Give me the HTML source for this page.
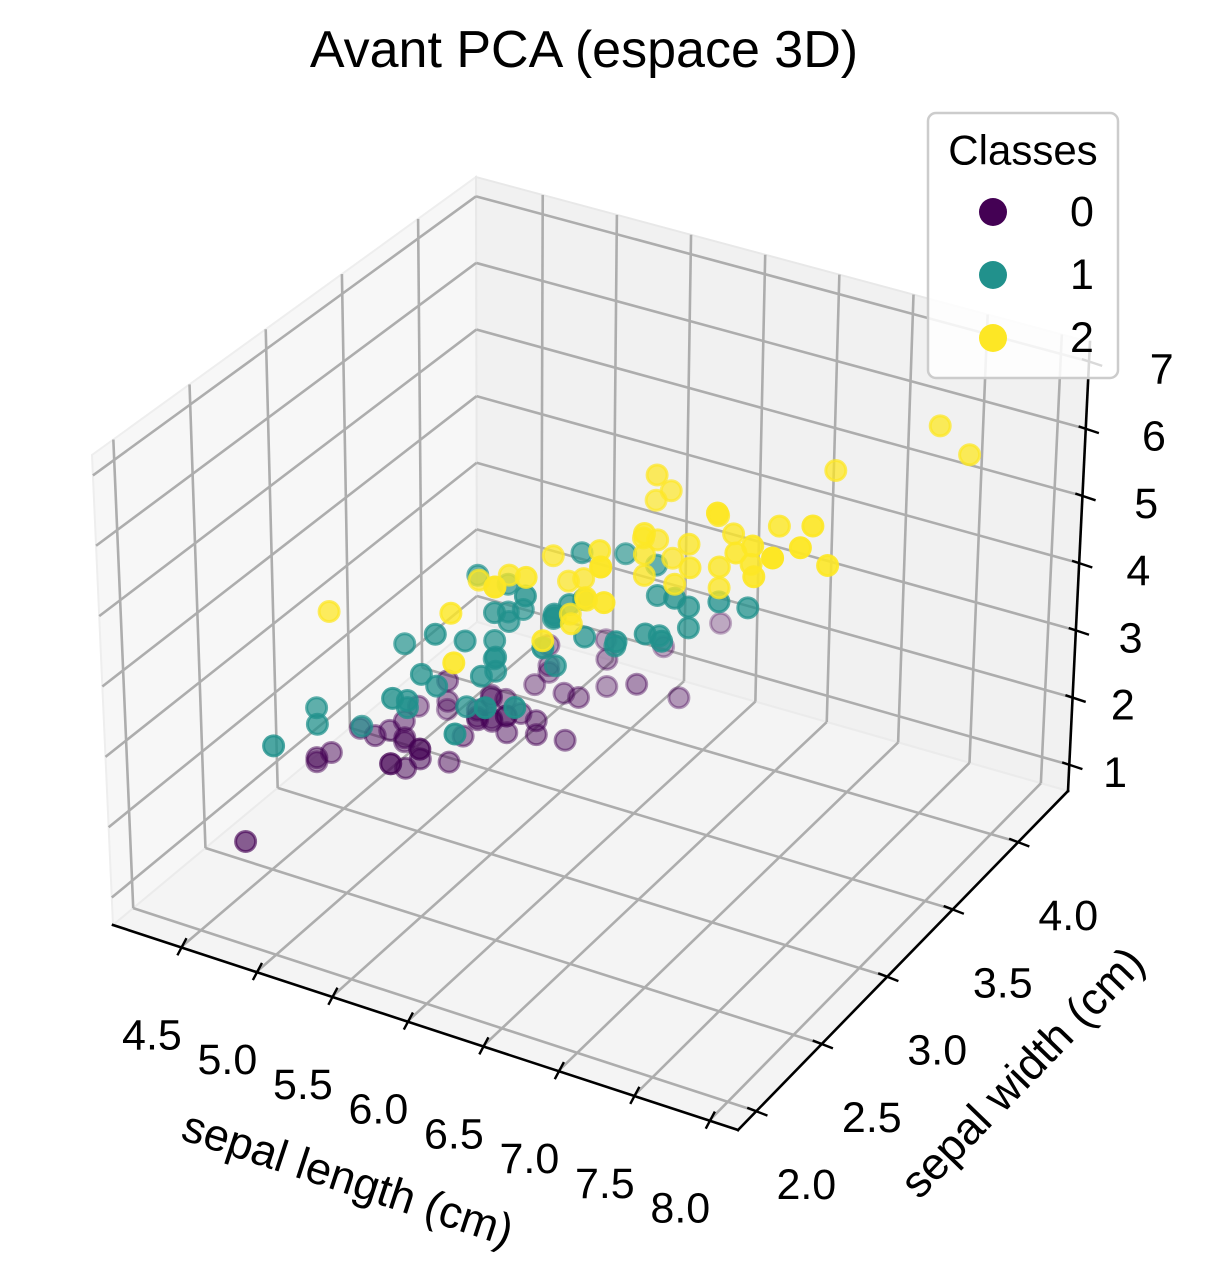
<!DOCTYPE html>
<html><head><meta charset="utf-8"><style>
html,body{margin:0;padding:0;background:#fff;}
svg{display:block;font-family:"Liberation Sans","DejaVu Sans",sans-serif;}
</style></head><body>
<svg id="chart" width="1209" height="1264" viewBox="0 0 1209 1264" xmlns="http://www.w3.org/2000/svg">
<rect width="1209" height="1264" fill="#fff"/>
<text x="584" y="67" font-size="52" text-anchor="middle" fill="#000">Avant PCA (espace 3D)</text>
<g id="panes"></g>
<g id="grid"></g>
<g id="axes"></g>
<g id="points"></g>
<text transform="translate(348,1178) rotate(18.2)" font-size="45" text-anchor="middle" dominant-baseline="central">sepal length (cm)</text>
<text transform="translate(1022,1072) rotate(-46)" font-size="45" text-anchor="middle" dominant-baseline="central">sepal width (cm)</text>
<g>
<rect x="928" y="113" width="190" height="265" rx="8" fill="#fff" fill-opacity="0.85" stroke="#cccccc" stroke-width="2.5"/>
<text x="1023" y="150" font-size="42" text-anchor="middle" dominant-baseline="central">Classes</text>
<g><circle cx="993" cy="212" r="14" fill="#440154"/><text x="1082" y="212" font-size="43" text-anchor="middle" dominant-baseline="central">0</text></g>
<g><circle cx="993" cy="275" r="14" fill="#21918c"/><text x="1082" y="275" font-size="43" text-anchor="middle" dominant-baseline="central">1</text></g>
<g><circle cx="993" cy="338" r="14" fill="#fde725"/><text x="1082" y="338" font-size="43" text-anchor="middle" dominant-baseline="central">2</text></g>
</g>
</svg>
<script>
const sepalLength = [5.1,4.9,4.7,4.6,5.0,5.4,4.6,5.0,4.4,4.9,5.4,4.8,4.8,4.3,5.8,5.7,5.4,5.1,5.7,5.1,5.4,5.1,4.6,5.1,4.8,5.0,5.0,5.2,5.2,4.7,4.8,5.4,5.2,5.5,4.9,5.0,5.5,4.9,4.4,5.1,5.0,4.5,4.4,5.0,5.1,4.8,5.1,4.6,5.3,5.0,
7.0,6.4,6.9,5.5,6.5,5.7,6.3,4.9,6.6,5.2,5.0,5.9,6.0,6.1,5.6,6.7,5.6,5.8,6.2,5.6,5.9,6.1,6.3,6.1,6.4,6.6,6.8,6.7,6.0,5.7,5.5,5.5,5.8,6.0,5.4,6.0,6.7,6.3,5.6,5.5,5.5,6.1,5.8,5.0,5.6,5.7,5.7,6.2,5.1,5.7,
6.3,5.8,7.1,6.3,6.5,7.6,4.9,7.3,6.7,7.2,6.5,6.4,6.8,5.7,5.8,6.4,6.5,7.7,7.7,6.0,6.9,5.6,7.7,6.3,6.7,7.2,6.2,6.1,6.4,7.2,7.4,7.9,6.4,6.3,6.1,7.7,6.3,6.4,6.0,6.9,6.7,6.9,5.8,6.8,6.7,6.7,6.3,6.5,6.2,5.9];
const sepalWidth = [3.5,3.0,3.2,3.1,3.6,3.9,3.4,3.4,2.9,3.1,3.7,3.4,3.0,3.0,4.0,4.4,3.9,3.5,3.8,3.8,3.4,3.7,3.6,3.3,3.4,3.0,3.4,3.5,3.4,3.2,3.1,3.4,4.1,4.2,3.1,3.2,3.5,3.6,3.0,3.4,3.5,2.3,3.2,3.5,3.8,3.0,3.8,3.2,3.7,3.3,
3.2,3.2,3.1,2.3,2.8,2.8,3.3,2.4,2.9,2.7,2.0,3.0,2.2,2.9,2.9,3.1,3.0,2.7,2.2,2.5,3.2,2.8,2.5,2.8,2.9,3.0,2.8,3.0,2.9,2.6,2.4,2.4,2.7,2.7,3.0,3.4,3.1,2.3,3.0,2.5,2.6,3.0,2.6,2.3,2.7,3.0,2.9,2.9,2.5,2.8,
3.3,2.7,3.0,2.9,3.0,3.0,2.5,2.9,2.5,3.6,3.2,2.7,3.0,2.5,2.8,3.2,3.0,3.8,2.6,2.2,3.2,2.8,2.8,2.7,3.3,3.2,2.8,3.0,2.8,3.0,2.8,3.8,2.8,2.8,2.6,3.0,3.4,3.1,3.0,3.1,3.1,3.1,2.7,3.2,3.3,3.0,2.5,3.0,3.4,3.0];
const petalLength = [1.4,1.4,1.3,1.5,1.4,1.7,1.4,1.5,1.4,1.5,1.5,1.6,1.4,1.1,1.2,1.5,1.3,1.4,1.7,1.5,1.7,1.5,1.0,1.7,1.9,1.6,1.6,1.5,1.4,1.6,1.6,1.5,1.5,1.4,1.5,1.2,1.3,1.4,1.3,1.5,1.3,1.3,1.3,1.6,1.9,1.4,1.6,1.4,1.5,1.4,
4.7,4.5,4.9,4.0,4.6,4.5,4.7,3.3,4.6,3.9,3.5,4.2,4.0,4.7,3.6,4.4,4.5,4.1,4.5,3.9,4.8,4.0,4.9,4.7,4.3,4.4,4.8,5.0,4.5,3.5,3.8,3.7,3.9,5.1,4.5,4.5,4.7,4.4,4.1,4.0,4.4,4.6,4.0,3.3,4.2,4.2,4.2,4.3,3.0,4.1,
6.0,5.1,5.9,5.6,5.8,6.6,4.5,6.3,5.8,6.1,5.1,5.3,5.5,5.0,5.1,5.3,5.5,6.7,6.9,5.0,5.7,4.9,6.7,4.9,5.7,6.0,4.8,4.9,5.6,5.8,6.1,6.4,5.6,5.1,5.6,6.1,5.6,5.5,4.8,5.4,5.6,5.1,5.1,5.9,5.7,5.2,5.0,5.2,5.4,5.1];
const classes = [0,0,0,0,0,0,0,0,0,0,0,0,0,0,0,0,0,0,0,0,0,0,0,0,0,0,0,0,0,0,0,0,0,0,0,0,0,0,0,0,0,0,0,0,0,0,0,0,0,0,
1,1,1,1,1,1,1,1,1,1,1,1,1,1,1,1,1,1,1,1,1,1,1,1,1,1,1,1,1,1,1,1,1,1,1,1,1,1,1,1,1,1,1,1,1,1,1,1,1,1,
2,2,2,2,2,2,2,2,2,2,2,2,2,2,2,2,2,2,2,2,2,2,2,2,2,2,2,2,2,2,2,2,2,2,2,2,2,2,2,2,2,2,2,2,2,2,2,2,2,2];
const classColors = ["#440154","#21918c","#fde725"];
const xTicks = [4.5,5.0,5.5,6.0,6.5,7.0,7.5,8.0];
const yTicks = [2.0,2.5,3.0,3.5,4.0];
const zTicks = [1,2,3,4,5,6,7];
const xTickLabels = ["4.5","5.0","5.5","6.0","6.5","7.0","7.5","8.0"];
const yTickLabels = ["2.0","2.5","3.0","3.5","4.0"];
const zTickLabels = ["1","2","3","4","5","6","7"];
const xLim = [4.05, 8.19];
const yLim = [1.86, 4.38];
const zLim = [0.61, 7.29];

const C = {
 "000":[113,925],"100":[738,1130],"010":[477,622],"110":[1068,791],
 "001":[92,455],"101":[740,650],"011":[476,177],"111":[1090,342]
};
function lerp(a,b,t){return [a[0]+(b[0]-a[0])*t,a[1]+(b[1]-a[1])*t];}
function projN(u,v,w){
  const f0=lerp(C["000"],C["100"],u), b0=lerp(C["010"],C["110"],u);
  const f1=lerp(C["001"],C["101"],u), b1=lerp(C["011"],C["111"],u);
  return lerp(lerp(f0,b0,v),lerp(f1,b1,v),w);
}
function nx(x){return (x-xLim[0])/(xLim[1]-xLim[0]);}
function ny(y){return (y-yLim[0])/(yLim[1]-yLim[0]);}
function nz(z){return (z-zLim[0])/(zLim[1]-zLim[0]);}
function proj(x,y,z){return projN(nx(x),ny(y),nz(z));}
const NS="http://www.w3.org/2000/svg";
function mk(tag,attrs,parent){const e=document.createElementNS(NS,tag);for(const k in attrs)e.setAttribute(k,attrs[k]);parent.appendChild(e);return e;}
function pts(a){return a.map(p=>p[0].toFixed(1)+","+p[1].toFixed(1)).join(" ");}

const panes=document.getElementById("panes");
let p;
p=mk("polygon",{points:pts([projN(0,0,0),projN(0,1,0),projN(0,1,1),projN(0,0,1)]),fill:"#f7f7f7",stroke:"#eeeeee","stroke-width":2},panes);


p=mk("polygon",{points:pts([projN(0,1,0),projN(1,1,0),projN(1,1,1),projN(0,1,1)]),fill:"#f1f1f1",stroke:"#e8e8e8","stroke-width":2},panes);


p=mk("polygon",{points:pts([projN(0,0,0),projN(1,0,0),projN(1,1,0),projN(0,1,0)]),fill:"#f4f4f4",stroke:"#ebebeb","stroke-width":2},panes);



const grid=document.getElementById("grid");
function gl(a,b,name){const l=mk("line",{x1:a[0],y1:a[1],x2:b[0],y2:b[1],stroke:"#adadad","stroke-width":2.6},grid);

}
xTicks.forEach(x=>{const u=nx(x);gl(projN(u,0,0),projN(u,1,0),'x-grid-floor');gl(projN(u,1,0),projN(u,1,1),'x-grid-back');});
yTicks.forEach(y=>{const v=ny(y);gl(projN(0,v,0),projN(1,v,0),'y-grid-floor');gl(projN(0,v,0),projN(0,v,1),'y-grid-left');});
zTicks.forEach(z=>{const w=nz(z);gl(projN(0,0,w),projN(0,1,w),'z-grid-left');gl(projN(0,1,w),projN(1,1,w),'z-grid-back');});

const axes=document.getElementById("axes");
function al(a,b,name,wd){const l=mk("line",{x1:a[0],y1:a[1],x2:b[0],y2:b[1],stroke:"#000","stroke-width":wd,"stroke-linecap":"square"},axes);

}
al(projN(0,0,0),projN(1,0,0),'x-axis-line',2.6);
al(projN(1,0,0),projN(1,1,0),'y-axis-line',2.6);
al(projN(1,1,0),projN(1,1,1),'z-axis-line',2.6);
function tl(x,y,s,name){const t=mk("text",{x:x,y:y,"font-size":43,"text-anchor":"middle","dominant-baseline":"central",fill:"#000"},axes);t.textContent=s;

}
xTicks.forEach((x,i)=>{const q=projN(nx(x),0,0);al([q[0]-3,q[1]+7],[q[0]+5,q[1]-8],'x-tick',2.4);tl(q[0]-29,q[1]+88,xTickLabels[i],'x-tick-label');});
yTicks.forEach((y,i)=>{const q=projN(1,ny(y),0);al([q[0]-8,q[1]-3],[q[0]+10,q[1]+4],'y-tick',2.4);tl(q[0]+50,q[1]+74,yTickLabels[i],'y-tick-label');});
zTicks.forEach((z,i)=>{const w=nz(z);const q=projN(1,1,w);al([q[0]-6,q[1]-2],[q[0]+12,q[1]+4],'z-tick',2.4);tl(q[0]+44+w*30,q[1]+8,zTickLabels[i],'z-tick-label');});

// small screen-space correction for perspective of the marks
const markShift = [6, -6];
const gpts=document.getElementById("points");
const recs=sepalLength.map((x,i)=>{const u=nx(x),v=ny(sepalWidth[i]),w=nz(petalLength[i]);
 const q=proj(x,sepalWidth[i],petalLength[i]);
 return {i:i,p:[q[0]+markShift[0]*(0.5+u*0.5),q[1]+markShift[1]*(0.6+w*0.6)],d:0.433*u*4-0.75*v*4+0.5*w*3};});
let dmin=Infinity,dmax=-Infinity;recs.forEach(r=>{dmin=Math.min(dmin,r.d);dmax=Math.max(dmax,r.d);});
recs.sort((a,b)=>a.d-b.d);
recs.forEach(r=>{const a=0.3+0.7*(r.d-dmin)/(dmax-dmin);const col=classColors[classes[r.i]];
 const c=mk("circle",{cx:r.p[0].toFixed(1),cy:r.p[1].toFixed(1),r:10,fill:col,"fill-opacity":a.toFixed(3),stroke:col,"stroke-opacity":a.toFixed(3),"stroke-width":3},gpts);
 
 
});
</script>
</body></html>
